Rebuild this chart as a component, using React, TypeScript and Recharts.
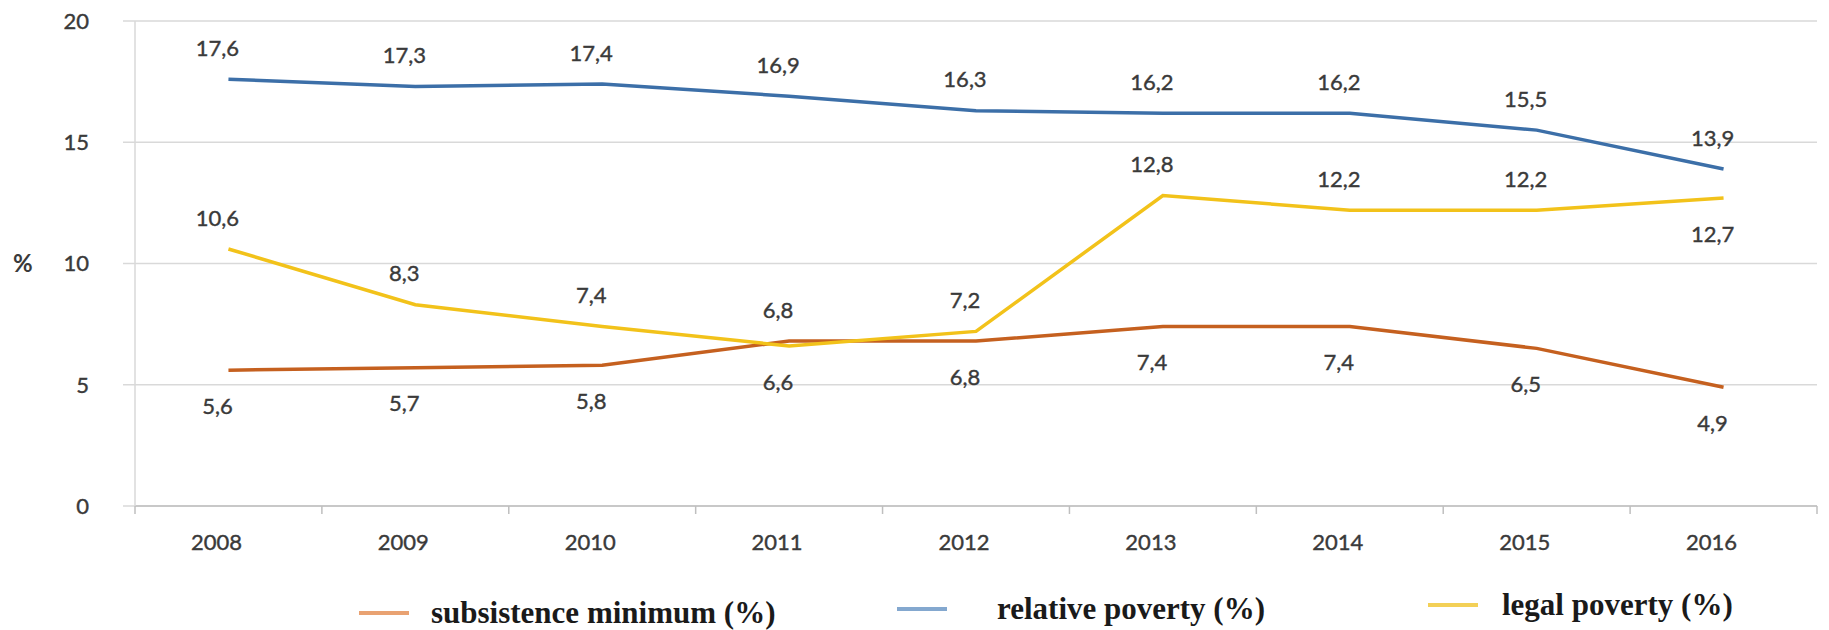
import React from "react";
import { CartesianGrid, Label, LabelList, Line, LineChart, XAxis, YAxis } from "recharts";

const years = [2008, 2009, 2010, 2011, 2012, 2013, 2014, 2015, 2016];
const subsistenceMinimum = [5.6, 5.7, 5.8, 6.8, 6.8, 7.4, 7.4, 6.5, 4.9];
const relativePoverty = [17.6, 17.3, 17.4, 16.9, 16.3, 16.2, 16.2, 15.5, 13.9];
const legalPoverty = [10.6, 8.3, 7.4, 6.6, 7.2, 12.8, 12.2, 12.2, 12.7];
const yTicks = [0, 5, 10, 15, 20];
const seriesNames = ["subsistence minimum (%)", "relative poverty (%)", "legal poverty (%)"];

// which value labels sit under their line instead of over it
const subsistenceBelow = [true, true, true, false, true, true, true, true, true];
const relativeBelow = [false, false, false, false, false, false, false, false, false];
const legalBelow = [false, false, false, true, false, false, false, false, true];

const data = years.map((year, i) => ({
  year,
  subsistence: subsistenceMinimum[i],
  relative: relativePoverty[i],
  legal: legalPoverty[i],
}));

// tick list: year centres get a label, half-year edges get a tick mark
const xTicks = [...years, ...years.map((y) => y - 0.5), years[years.length - 1] + 0.5].sort((a, b) => a - b);

const FONT = "Lato, 'Open Sans', sans-serif";
const TEXT = "#3a3a3a";
const GRID = "#d9d9d9";

const colors = { subsistence: "#c5601f", relative: "#3c6fa8", legal: "#f2c21a" };
const legendColors = ["#e9a272", "#84a8cf", "#f3d057"];
const legendLeft = [359, 897, 1428];
const legendGap = [22, 50, 24];
const legendTop = [596, 592, 588];

function YearTick(props: any) {
  const { x, y, payload } = props;
  const v = payload.value;
  if (!Number.isInteger(v)) {
    return <line x1={x} x2={x} y1={y} y2={y + 8} stroke="#bfbfbf" strokeWidth={1.5} />;
  }
  return (
    <text
      x={x - 12}
      y={y + 36}
      dy="0.35em"
      textAnchor="middle"
      fill={TEXT}
      stroke={TEXT}
      strokeWidth={0.4}
      fontSize={22}
      fontFamily={FONT}
    >
      {v}
    </text>
  );
}

const valueLabel = (below: boolean[]) => (props: any) => {
  const { x, y, value, index } = props;
  const under = below[index];
  return (
    <text
      x={x - 11}
      y={under ? y + 36 : y - 31}
      dy="0.35em"
      textAnchor="middle"
      fill={TEXT}
      stroke={TEXT}
      strokeWidth={0.4}
      fontSize={22}
      fontFamily={FONT}
    >
      {Number(value).toFixed(1).replace(".", ",")}
    </text>
  );
};

export default function App() {
  return (
    <div style={{ position: "relative", width: 1829, height: 630, background: "#fff" }}>
      <style>{`body{margin:0}`}</style>
      <LineChart width={1829} height={630} data={data} margin={{ top: 21, right: 12, left: 0, bottom: 84 }}>
        <CartesianGrid vertical={false} stroke={GRID} strokeWidth={1.5} />
        <XAxis
          dataKey="year"
          type="number"
          domain={[years[0] - 0.5, years[years.length - 1] + 0.5]}
          ticks={xTicks}
          interval={0}
          tickSize={0}
          tickMargin={0}
          tickLine={false}
          axisLine={{ stroke: "#bfbfbf", strokeWidth: 1.5 }}
          tick={<YearTick />}
          height={40}
        />
        <YAxis
          domain={[0, 20]}
          ticks={yTicks}
          width={135}
          tickSize={12}
          tickMargin={34}
          tickLine={{ stroke: GRID, strokeWidth: 1.5 }}
          axisLine={{ stroke: GRID, strokeWidth: 1.5 }}
          tick={{ fill: TEXT, stroke: TEXT, strokeWidth: 0.4, fontSize: 22, fontFamily: FONT }}
        >
          <Label value="%" position="insideLeft" offset={13} fill={TEXT} fontSize={24} fontWeight="bold" fontFamily={FONT} />
        </YAxis>
        <Line dataKey="relative" stroke={colors.relative} strokeWidth={3.5} dot={false} isAnimationActive={false}>
          <LabelList dataKey="relative" content={valueLabel(relativeBelow)} />
        </Line>
        <Line dataKey="subsistence" stroke={colors.subsistence} strokeWidth={3.5} dot={false} isAnimationActive={false}>
          <LabelList dataKey="subsistence" content={valueLabel(subsistenceBelow)} />
        </Line>
        <Line dataKey="legal" stroke={colors.legal} strokeWidth={3.5} dot={false} isAnimationActive={false}>
          <LabelList dataKey="legal" content={valueLabel(legalBelow)} />
        </Line>
      </LineChart>
      {seriesNames.map((name, i) => (
        <div
          key={name}
          style={{
            position: "absolute",
            left: legendLeft[i],
            top: legendTop[i],
            display: "flex",
            alignItems: "center",
            gap: legendGap[i],
            whiteSpace: "nowrap",
          }}
        >
          <span style={{ display: "inline-block", width: 50, height: 4, background: legendColors[i] }} />
          <span
            style={{
              fontFamily: "'Liberation Serif', 'Times New Roman', serif",
              fontWeight: "bold",
              fontSize: 31,
              color: "#1a1a1a",
              lineHeight: "34px",
            }}
          >
            {name}
          </span>
        </div>
      ))}
    </div>
  );
}
